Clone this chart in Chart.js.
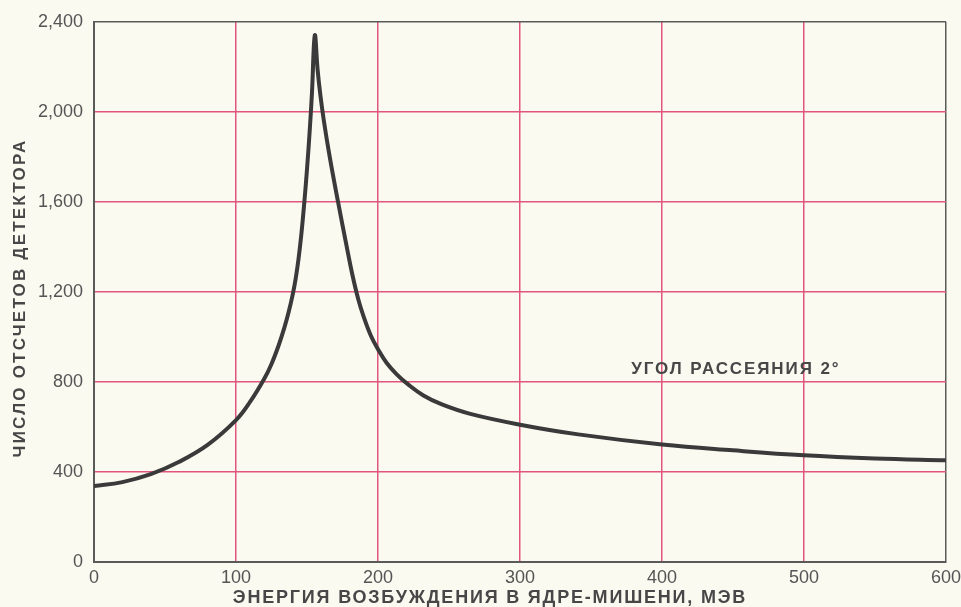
<!DOCTYPE html>
<html>
<head>
<meta charset="utf-8">
<script src="https://cdn.jsdelivr.net/npm/chart.js@4.4.1/dist/chart.umd.min.js"></script>
<style>
  html, body { margin: 0; padding: 0; background: #fbfaf1; }
  #wrap { width: 961px; height: 607px; }
</style>
</head>
<body>
<div id="wrap"><canvas id="chart" width="961" height="607"></canvas></div>
<script>
// energy, MeV (x) and detector counts (y)
const energy = [0, 20, 40, 60, 80, 100, 110, 120, 125, 130, 134, 137, 140, 142, 144, 146, 148, 150, 152, 153.5, 155.5, 157.5, 159.5, 162, 166, 172, 178, 182, 186, 190, 195, 200, 206, 213, 221, 232, 245, 265, 300, 341, 400, 450, 500, 550, 600];
const counts = [338, 355, 390, 445, 520, 630, 712, 815, 880, 962, 1040, 1108, 1190, 1258, 1345, 1455, 1590, 1745, 1925, 2085, 2340, 2185, 2070, 1955, 1800, 1595, 1400, 1275, 1170, 1088, 1005, 945, 885, 835, 790, 740, 700, 658, 610, 567, 522, 496, 474, 460, 452];

const xTicks = [0, 100, 200, 300, 400, 500, 600];
const yTicks = [0, 400, 800, 1200, 1600, 2000, 2400];

const xTitle = 'ЭНЕРГИЯ ВОЗБУЖДЕНИЯ В ЯДРЕ-МИШЕНИ, МЭВ';
const yTitle = 'ЧИСЛО ОТСЧЕТОВ ДЕТЕКТОРА';
const note = 'УГОЛ РАССЕЯНИЯ 2°';
const notePos = { x: 452, y: 855 };

const PINK = '#e2557f';
const FRAME = '#5a5a5a';
const INK = '#474747';
const FONT = '"Liberation Sans", Arial, sans-serif';

const textPlugin = {
  id: 'texts',
  afterDraw(chart) {
    const { ctx, scales } = chart;
    ctx.save();
    ctx.fillStyle = INK;
    ctx.textAlign = 'center';
    ctx.textBaseline = 'middle';

    ctx.font = 'bold 18px ' + FONT;
    ctx.letterSpacing = '1.8px';
    ctx.fillText(xTitle, 490, 598);

    ctx.font = 'bold 17px ' + FONT;
    ctx.letterSpacing = '2.2px';
    ctx.save();
    ctx.translate(20, 298);
    ctx.rotate(-Math.PI / 2);
    ctx.fillText(yTitle, 0, 0);
    ctx.restore();

    ctx.font = 'bold 17px ' + FONT;
    ctx.letterSpacing = '1.9px';
    ctx.fillText(note, scales.x.getPixelForValue(notePos.x), scales.y.getPixelForValue(notePos.y));
    ctx.restore();
  }
};

new Chart(document.getElementById('chart'), {
  type: 'scatter',
  data: {
    datasets: [{
      data: energy.map((e, i) => ({ x: e, y: counts[i] })),
      showLine: true,
      borderColor: '#3b3a3a',
      borderWidth: 4,
      pointRadius: 0,
      tension: 0.4
    }]
  },
  options: {
    responsive: false,
    animation: false,
    devicePixelRatio: 1,
    layout: { padding: { top: 18, right: 0, left: 0, bottom: 0 } },
    plugins: { legend: { display: false }, tooltip: { enabled: false } },
    scales: {
      x: {
        type: 'linear',
        min: 0, max: 600,
        afterBuildTicks: s => { s.ticks = xTicks.map(v => ({ value: v })); },
        afterFit: s => { s.height = 45; s.paddingRight = 15; },
        ticks: { color: '#555', padding: 5, font: { size: 18, family: FONT }, maxRotation: 0 },
        grid: {
          drawTicks: false,
          lineWidth: 1.5,
          color: c => (c.tick && c.tick.value === 600) ? FRAME : PINK
        },
        border: { color: FRAME, width: 2 }
      },
      y: {
        min: 0, max: 2400,
        afterBuildTicks: s => { s.ticks = yTicks.map(v => ({ value: v })); },
        afterFit: s => { s.width = 94; },
        ticks: {
          color: '#555', padding: 11,
          font: { size: 18, family: FONT },
          callback: v => v.toLocaleString('en-US')
        },
        grid: {
          drawTicks: false,
          lineWidth: 1.5,
          color: c => (c.tick && c.tick.value === 2400) ? FRAME : PINK
        },
        border: { color: FRAME, width: 2 }
      }
    }
  },
  plugins: [textPlugin]
});
</script>
</body>
</html>
